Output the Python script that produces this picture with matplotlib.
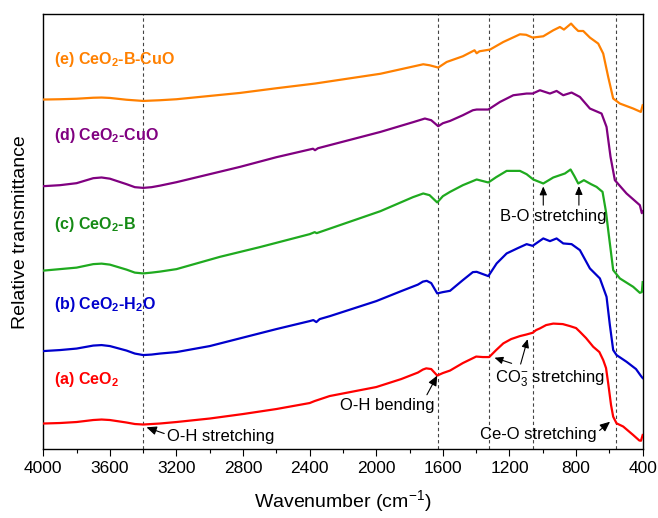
import numpy as np
import matplotlib
matplotlib.use("Agg")
import matplotlib.pyplot as plt
from matplotlib.ticker import MultipleLocator

plt.rcParams['font.family'] = ['Liberation Sans', 'DejaVu Sans']
plt.rcParams['mathtext.fontset'] = 'custom'
plt.rcParams['mathtext.rm'] = 'Liberation Sans'
plt.rcParams['mathtext.it'] = 'Liberation Sans:italic'
plt.rcParams['mathtext.bf'] = 'Liberation Sans:bold'

# FTIR spectra (wavenumber in cm^-1, stacked transmittance in arbitrary units)
wn_a = [4000, 3900, 3800, 3700, 3650, 3600, 3500, 3450, 3400, 3350, 3300, 3200, 3000, 2800,
        2600, 2400, 2370, 2280, 2000, 1850, 1750, 1720, 1700, 1670, 1634, 1600, 1557, 1480,
        1400, 1360, 1322, 1280, 1237, 1190, 1137, 1100, 1061, 1040, 1017, 980, 937, 880, 837,
        800, 777, 740, 697, 660, 637, 620, 607, 590, 577, 557, 517, 457, 420, 410, 400]
t_a = [25.5, 26, 27, 29, 29.5, 29, 26.5, 25, 24.5, 25, 25.5, 27, 30.5, 35,
       40, 46, 48, 53, 62, 70, 76.5, 79.5, 80.7, 80, 73.5, 76, 78.5, 86,
       92.5, 92, 92, 99, 105.7, 110, 113, 114.5, 116.3, 119, 120.7, 124, 125.5, 125, 123,
       121, 117.3, 111, 102.3, 97, 89, 81, 65.7, 44, 32.3, 25.7, 22.5, 14, 8.5, 8.3, 14]

wn_b = [4000, 3900, 3800, 3700, 3650, 3600, 3500, 3450, 3400, 3350, 3300, 3200, 3000, 2819,
        2600, 2400, 2378, 2360, 2340, 2278, 2000, 1850, 1750, 1720, 1697, 1670, 1634, 1600,
        1557, 1480, 1420, 1397, 1327, 1277, 1217, 1150, 1097, 1061, 997, 957, 917, 877, 827,
        777, 717, 657, 617, 597, 577, 557, 497, 440, 410, 400]
t_b = [98, 99, 100.5, 103.5, 104, 103, 98.5, 95.5, 94, 94.5, 95.5, 97, 103, 110.7,
       120, 128, 129, 127, 130, 133, 148, 158, 164.5, 167.5, 168.3, 166, 155.7, 157,
       158.3, 169, 177, 177.3, 173, 185.7, 195.7, 201, 205, 203.3, 210.7, 208, 210.7, 205.7, 205,
       199, 180.7, 170.7, 152.3, 124, 99, 94, 87.3, 80, 73, 71]

wn_c = [4000, 3900, 3800, 3700, 3650, 3600, 3500, 3450, 3400, 3350, 3300, 3200, 2939, 2700,
        2400, 2370, 2358, 1975, 1780, 1718, 1680, 1634, 1600, 1557, 1480, 1397, 1327, 1280,
        1217, 1137, 1097, 1057, 997, 937, 867, 833, 810, 787, 753, 710, 677, 641, 620, 607,
        577, 537, 457, 417, 405, 400]
t_c = [178.5, 180, 181.5, 185, 185.5, 184.5, 179.5, 176.5, 175.7, 176.5, 177.5, 180, 192.3, 202,
       215, 217, 216, 238, 252, 255.7, 254, 246.7, 253, 257.3, 264, 269.7, 266.7, 272,
       278.3, 278.3, 275, 269.7, 265.7, 271.7, 275.7, 279.7, 273, 265.7, 269, 265, 262.3, 257.3, 237, 219,
       179, 170.7, 162.3, 156.3, 157, 167]

wn_d = [4000, 3900, 3800, 3700, 3650, 3600, 3500, 3450, 3400, 3350, 3300, 3200, 2819, 2600,
        2380, 2368, 2350, 1975, 1780, 1708, 1670, 1628, 1600, 1557, 1480, 1420, 1397, 1327,
        1257, 1177, 1097, 1061, 1017, 957, 917, 877, 827, 777, 717, 647, 617, 593, 567, 497,
        417, 405, 400]
t_d = [263, 264, 266, 271, 271.7, 270.5, 265, 262, 261.3, 262, 263.5, 267, 282.3, 292,
       300.5, 299, 301, 317.3, 327, 330.7, 329, 323, 326, 328.3, 334, 339, 339.7, 339.7,
       347.3, 354, 355.7, 355.7, 359, 355.7, 358.3, 354, 356.7, 352.3, 340.7, 335.7, 322.3, 292.3, 269, 255.7,
       244, 236, 238]

wn_e = [4000, 3900, 3800, 3700, 3650, 3600, 3500, 3400, 3300, 3200, 2819, 2600, 2368, 1975,
        1718, 1680, 1628, 1577, 1480, 1410, 1397, 1380, 1317, 1237, 1137, 1100, 1061, 997,
        937, 897, 873, 830, 810, 787, 757, 717, 667, 637, 607, 577, 537, 457, 411, 400]
t_e = [349.7, 350, 350.5, 351.5, 351.7, 351.3, 349.5, 348.3, 349, 350, 356.3, 361, 365.7, 375.5,
       385, 384, 381.7, 387.3, 393, 399, 396, 398, 399.7, 407.3, 415, 414.5, 411.7, 413,
       419, 422.3, 419.7, 425.7, 422, 418.3, 418.3, 411.7, 405.7, 395.7, 372.3, 350.7, 345.7, 340.7, 337.3, 344]

series = [
    (wn_a, t_a, '#ff0000', '#ff0000', r'(a) CeO$_\mathbf{2}$', 65),
    (wn_b, t_b, '#0000cc', '#0000cc', r'(b) CeO$_\mathbf{2}$-H$_\mathbf{2}$O', 140),
    (wn_c, t_c, '#1faa1f', '#158a15', r'(c) CeO$_\mathbf{2}$-B', 219.7),
    (wn_d, t_d, '#800080', '#800080', r'(d) CeO$_\mathbf{2}$-CuO', 309),
    (wn_e, t_e, '#ff8000', '#ff8000', r'(e) CeO$_\mathbf{2}$-B-CuO', 385),
]

band_positions = [3400, 1630, 1320, 1060, 560]

fig = plt.figure(figsize=(6.58, 5.18), dpi=100)
ax = fig.add_axes([0.0658, 0.1332, 0.9109, 0.8392])

for b in band_positions:
    ax.axvline(b, color='#444444', lw=0.8, ls=(0, (3, 2.5)), zorder=1)

for wn, t, lc, tc, label, ly in series:
    ax.plot(wn, t, color=lc, lw=1.6, zorder=3, solid_joinstyle='round')
    ax.text(3936, ly, label, color=tc, fontsize=11.5, fontweight='bold', ha='left', va='baseline')

arrow = dict(arrowstyle='-|>,head_length=0.5,head_width=0.22', color='black', lw=0.8,
             shrinkA=0, shrinkB=0)
fs = 12

def on(wn, t, x, dy=0.0):
    return (x, float(np.interp(x, wn[::-1], t[::-1])) + dy)

# O-H stretching
ax.annotate('O-H stretching', xy=on(wn_a, t_a, 3380, -3), xytext=(3257, 13), fontsize=fs,
            ha='left', va='center', arrowprops=dict(arrow, relpos=(0.0, 0.6)))
# O-H bending
ax.annotate('O-H bending', xy=on(wn_a, t_a, 1634, 0), xytext=(1648, 44), fontsize=fs,
            ha='right', va='center', arrowprops=dict(arrow, relpos=(0.9, 1.0)))
# carbonate bands
ax.text(1287, 70, r'CO$_3^{-}$ stretching', fontsize=fs, ha='left', va='center')
ax.annotate('', xy=on(wn_a, t_a, 1290, -6), xytext=(1187, 85.7), arrowprops=arrow)
ax.annotate('', xy=on(wn_a, t_a, 1091, -5), xytext=(1133, 85), arrowprops=arrow)
# Ce-O stretching
ax.annotate('Ce-O stretching', xy=(596, 27.3), xytext=(676, 14.7), fontsize=fs,
            ha='right', va='center', arrowprops=dict(arrow, relpos=(1.0, 0.6)))
# B-O stretching
ax.text(937, 232.3, 'B-O stretching', fontsize=fs, ha='center', va='center')
ax.annotate('', xy=on(wn_c, t_c, 997, -3), xytext=(997, 244), arrowprops=arrow)
ax.annotate('', xy=on(wn_c, t_c, 783, -3), xytext=(783, 244), arrowprops=arrow)

ax.set_xlim(4000, 400)
ax.set_ylim(0, 435)
ax.set_xticks(np.arange(4000, 399, -400))
ax.xaxis.set_minor_locator(MultipleLocator(200))
ax.set_yticks([])
ax.tick_params(axis='x', which='major', direction='out', length=5, width=0.8, labelsize=12.5)
ax.tick_params(axis='x', which='minor', direction='out', length=3, width=0.8)
for s in ax.spines.values():
    s.set_linewidth(1.0)

ax.set_xlabel('Wavenumber (cm$^{-1}$)', fontsize=14, labelpad=9)
ax.set_ylabel('Relative transmittance', fontsize=14, labelpad=10)

fig.savefig('out.png', dpi=100)
